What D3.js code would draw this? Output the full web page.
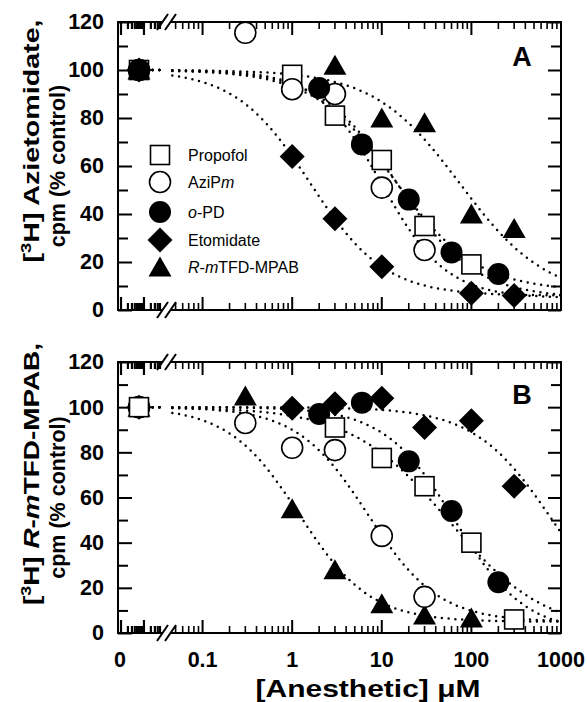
<!DOCTYPE html>
<html lang="en">
<head>
<meta charset="utf-8">
<title>Photolabeling inhibition by anesthetics</title>
<script src="https://cdn.jsdelivr.net/npm/d3@7"></script>
<style>
  body { margin: 0; background: #fff; }
  text { font-family: "Liberation Sans", Arial, sans-serif; fill: #000; }
</style>
</head>
<body>
<script>
// concentration in uM (0 = control), response in % control
var aPropofol   = [[0,100],[1,98],[3,81],[10,62.5],[30,35],[100,19]];
var aAziPm      = [[0,100],[0.3,115.5],[1,92],[3,90],[10,51],[30,25]];
var aOPD        = [[0,100],[2,92.5],[6,69],[20,46],[60,24],[200,15]];
var aEtomidate  = [[0,100],[1,64],[3,38],[10,18],[100,7],[300,6]];
var aMPAB       = [[0,100],[3,102],[10,80],[30,78],[100,40],[300,34]];

var bPropofol   = [[0,100],[3,91],[10,77.5],[30,65],[100,40],[300,6]];
var bAziPm      = [[0,100],[0.3,93],[1,82],[3,81],[10,43],[30,16]];
var bOPD        = [[0,100],[2,97],[6,102],[20,76],[60,54],[200,22.5]];
var bEtomidate  = [[0,100],[1,99.5],[3,101.5],[10,104],[30,91],[100,94],[300,65]];
var bMPAB       = [[0,100],[0.3,105],[1,55],[3,28],[10,13],[30,8],[100,6.6]];

// fitted curves: [IC50 (uM), Hill slope, bottom (%)]
var aFits = [[15,1.0,5],[10,1.2,5],[14,0.95,8],[1.58,1.04,6],[75,0.9,5]];
var bFits = [[55,0.8,0],[7,1.1,5],[65,1.1,0],[800,1.0,0],[1.2,1.1,5]];

var seriesNames = ["Propofol","AziPm","o-PD","Etomidate","R-mTFD-MPAB"];
var shapes = ["square","circle","disc","diamond","triangle"];
var yTicks = [0,20,40,60,80,100,120];
var yMinor = [10,30,50,70,90,110];
var xLabels = [0.1,1,10,100,1000];

var w = 587, h = 702;
var left = 118, right = 561, x0pos = 139;

var svg = d3.select("body").append("svg")
    .attr("width", w).attr("height", h);

var xLog = d3.scaleLog().domain([0.05,1000]).range([175.6, right]);
var xLeft = d3.scaleLog().domain([0.001,0.05]).range([121, 160]);
function xPos(c) { return c === 0 ? x0pos : xLog(c); }

function hill(f, c) {
    return f[2] + (100 - f[2]) / (1 + Math.pow(c / f[0], f[1]));
}

function marker(g, shape, cx, cy) {
    if(shape == "square") {
        g.append("rect").attr("x", cx-9.5).attr("y", cy-9.5)
            .attr("width", 19).attr("height", 19)
            .attr("fill", "#fff").attr("stroke", "#000").attr("stroke-width", 1.6);
    } else if(shape == "circle") {
        g.append("circle").attr("cx", cx).attr("cy", cy).attr("r", 10.5)
            .attr("fill", "#fff").attr("stroke", "#000").attr("stroke-width", 1.6);
    } else if(shape == "disc") {
        g.append("circle").attr("cx", cx).attr("cy", cy).attr("r", 11)
            .attr("fill", "#000");
    } else if(shape == "diamond") {
        g.append("path").attr("transform", "translate(" + cx + "," + cy + ")")
            .attr("d", "M0,-12.5L12.5,0L0,12.5L-12.5,0Z").attr("fill", "#000");
    } else {
        g.append("path").attr("transform", "translate(" + cx + "," + cy + ")")
            .attr("d", "M0,-10.5L11.5,9.5L-11.5,9.5Z").attr("fill", "#000");
    }
}

var panels = [
    {name: "A", top: 22, bottom: 310, data: [aPropofol,aAziPm,aOPD,aEtomidate,aMPAB],
     fits: aFits, order: [0,1,2,3,4], lab1: [["[",""],["3","sup"],["H] Azietomidate,",""]],
     labY: 141, labLen: 243},
    {name: "B", top: 362, bottom: 633, data: [bPropofol,bAziPm,bOPD,bEtomidate,bMPAB],
     fits: bFits, order: [4,1,2,3,0],
     lab1: [["[",""],["3","sup"],["H] ",""],["R","it"],["-",""],["m","it"],["TFD-MPAB,",""]],
     labY: 474, labLen: 262}
];

panels.forEach(function(p, pi) {
    var y = d3.scaleLinear().domain([0,120]).range([p.bottom, p.top]);
    var g = svg.append("g");

    // clip for curves
    svg.append("clipPath").attr("id", "clip" + p.name)
        .append("rect").attr("x", left).attr("y", p.top)
        .attr("width", right-left).attr("height", p.bottom-p.top);

    // fitted curves (dotted)
    var curveG = g.append("g").attr("clip-path", "url(#clip" + p.name + ")");
    var cs = d3.range(Math.log10(0.046), 3.02, 0.01).map(function(e) { return Math.pow(10, e); });
    p.fits.forEach(function(f) {
        var line = d3.line()
            .x(function(c) { return xLog(c); })
            .y(function(c) { return y(hill(f, c)); });
        curveG.append("path").attr("d", line(cs))
            .attr("fill", "none").attr("stroke", "#000")
            .attr("stroke-width", 2.5).attr("stroke-linecap", "round")
            .attr("stroke-dasharray", "0,6.8");
        curveG.append("line")
            .attr("x1", x0pos).attr("x2", 160)
            .attr("y1", y(100)).attr("y2", y(100))
            .attr("stroke", "#000").attr("stroke-width", 2.5)
            .attr("stroke-linecap", "round").attr("stroke-dasharray", "0,6.8");
    });

    // axis ticks
    var yAxisL = d3.axisLeft(y).tickValues(yTicks).tickSize(-14).tickPadding(14);
    var gl = g.append("g").attr("transform", "translate(" + left + ",0)").call(yAxisL);
    gl.select(".domain").remove();
    gl.selectAll("line").attr("stroke-width", 2);
    gl.selectAll("text").attr("font-size", 21.5).attr("font-weight", "bold")
        .attr("font-family", "'Liberation Sans', Arial, sans-serif");
    var gl2 = g.append("g").attr("transform", "translate(" + left + ",0)")
        .call(d3.axisLeft(y).tickValues(yMinor).tickSize(-10).tickFormat(""));
    gl2.select(".domain").remove();
    gl2.selectAll("line").attr("stroke-width", 2);

    var gr = g.append("g").attr("transform", "translate(" + right + ",0)")
        .call(d3.axisRight(y).tickValues(yTicks).tickSize(-13).tickFormat(""));
    gr.select(".domain").remove();
    gr.selectAll("line").attr("stroke-width", 2);
    var gr2 = g.append("g").attr("transform", "translate(" + right + ",0)")
        .call(d3.axisRight(y).tickValues(yMinor).tickSize(-10).tickFormat(""));
    gr2.select(".domain").remove();
    gr2.selectAll("line").attr("stroke-width", 2);

    var isMajor = function(v) { return Math.abs(Math.log10(v) - Math.round(Math.log10(v))) < 1e-6; };
    var logTicks = xLog.ticks();
    var leftTicks = xLeft.ticks();
    [[p.top, 1], [p.bottom, -1]].forEach(function(s) {
        var yy = s[0], dir = s[1];
        logTicks.forEach(function(v) {
            var len = isMajor(v) ? 13 : 7;
            g.append("line").attr("x1", xLog(v)).attr("x2", xLog(v))
                .attr("y1", yy).attr("y2", yy + dir*len)
                .attr("stroke", "#000").attr("stroke-width", isMajor(v) ? 2 : 1.6);
        });
        leftTicks.forEach(function(v) {
            var len = isMajor(v) ? 13 : 7;
            g.append("line").attr("x1", xLeft(v)).attr("x2", xLeft(v))
                .attr("y1", yy).attr("y2", yy + dir*len)
                .attr("stroke", "#000").attr("stroke-width", 2.2);
        });
        // axis line with break
        g.append("line").attr("x1", left).attr("x2", 162.5).attr("y1", yy).attr("y2", yy)
            .attr("stroke", "#000").attr("stroke-width", 2);
        g.append("line").attr("x1", 170.5).attr("x2", right).attr("y1", yy).attr("y2", yy)
            .attr("stroke", "#000").attr("stroke-width", 2);
        g.append("line").attr("x1", 157).attr("y1", yy+8).attr("x2", 168).attr("y2", yy-8)
            .attr("stroke", "#000").attr("stroke-width", 2);
        g.append("line").attr("x1", 165).attr("y1", yy+8).attr("x2", 176).attr("y2", yy-8)
            .attr("stroke", "#000").attr("stroke-width", 2);
    });
    g.append("line").attr("x1", left).attr("x2", left).attr("y1", p.top-1).attr("y2", p.bottom+1)
        .attr("stroke", "#000").attr("stroke-width", 2);
    g.append("line").attr("x1", right).attr("x2", right).attr("y1", p.top-1).attr("y2", p.bottom+1)
        .attr("stroke", "#000").attr("stroke-width", 2);

    // data markers
    var mg = g.append("g");
    p.order.forEach(function(si) {
        p.data[si].forEach(function(d) {
            marker(mg, shapes[si], xPos(d[0]), y(d[1]));
        });
    });

    // panel letter
    g.append("text").attr("x", 522).attr("y", y(101.5))
        .attr("text-anchor", "middle").attr("font-size", 27).attr("font-weight", "bold")
        .text(p.name);

    // y labels
    var mid = (p.top + p.bottom) / 2;
    var t1 = g.append("text").attr("transform", "translate(31," + p.labY + ") rotate(-90)")
        .attr("text-anchor", "middle").attr("dy", "0.35em")
        .attr("font-size", 22).attr("font-weight", "bold")
        .attr("textLength", p.labLen).attr("lengthAdjust", "spacingAndGlyphs");
    p.lab1.forEach(function(part) {
        var ts = t1.append("tspan").text(part[0]);
        if(part[1] == "sup") ts.attr("baseline-shift", "super").attr("font-size", 14);
        if(part[1] == "it") ts.attr("font-style", "italic");
    });
    g.append("text").attr("transform", "translate(57," + mid + ") rotate(-90)")
        .attr("text-anchor", "middle").attr("dy", "0.35em")
        .attr("font-size", 21.5).attr("font-weight", "bold")
        .text("cpm (% control)");
});

// x tick labels (bottom panel only)
var xl = svg.append("g").attr("font-size", 21.5).attr("font-weight", "bold");
xl.append("text").attr("x", 120).attr("y", 667).attr("text-anchor", "middle").text("0");
xLabels.forEach(function(v) {
    xl.append("text").attr("x", xLog(v)).attr("y", 667).attr("text-anchor", "middle").text(v);
});
svg.append("text").attr("x", 368).attr("y", 697).attr("text-anchor", "middle")
    .attr("font-size", 23).attr("font-weight", "bold")
    .attr("textLength", 225).attr("lengthAdjust", "spacingAndGlyphs")
    .text("[Anesthetic] \u03bcM");

// legend (panel A)
var legY = [155, 182, 212, 240, 267];
var lg = svg.append("g");
seriesNames.forEach(function(name, i) {
    marker(lg, shapes[i], 160, legY[i]);
    var t = lg.append("text").attr("x", 188).attr("y", legY[i] + 6).attr("font-size", 16);
    if(name == "AziPm") {
        t.append("tspan").text("AziP");
        t.append("tspan").attr("font-style", "italic").text("m");
    } else if(name == "o-PD") {
        t.append("tspan").attr("font-style", "italic").text("o");
        t.append("tspan").text("-PD");
    } else if(name == "R-mTFD-MPAB") {
        t.append("tspan").attr("font-style", "italic").text("R");
        t.append("tspan").text("-");
        t.append("tspan").attr("font-style", "italic").text("m");
        t.append("tspan").text("TFD-MPAB");
    } else {
        t.text(name);
    }
});
</script>
</body>
</html>
